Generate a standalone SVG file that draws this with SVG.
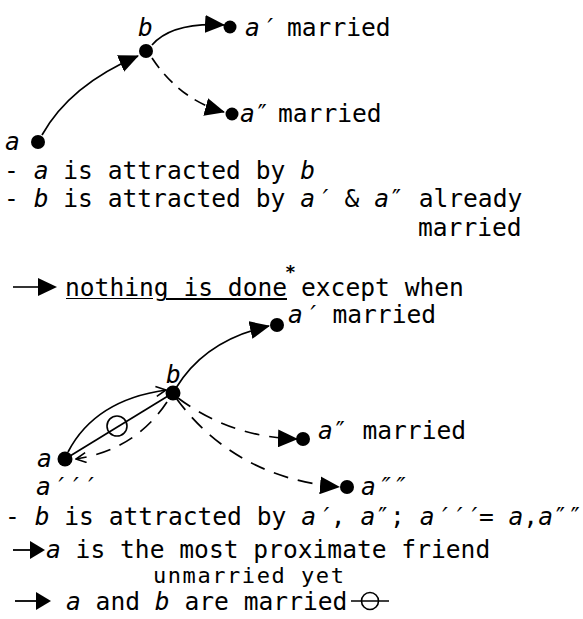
<svg xmlns="http://www.w3.org/2000/svg" width="583" height="619" viewBox="0 0 583 619">
<style>
text{font-family:"DejaVu Sans Mono","Liberation Mono",monospace;font-size:24.6px;fill:#000}
.v{font-style:italic}
.s{font-size:22px;letter-spacing:1.56px}
.c{fill:none;stroke:#000;stroke-width:1.7}
.d{fill:none;stroke:#000;stroke-width:1.7;stroke-dasharray:12 8}
.d2{fill:none;stroke:#000;stroke-width:1.7;stroke-dasharray:15 10}
.n{fill:#000}
</style>
<defs>
<marker id="tri" viewBox="0 0 20 18" refX="19" refY="9" markerWidth="20" markerHeight="18" markerUnits="userSpaceOnUse" orient="auto"><path d="M0,0 L20,9 L0,18 Z" fill="#000"/></marker>
<marker id="open" viewBox="0 0 12 12" refX="11" refY="6" markerWidth="12" markerHeight="12" markerUnits="userSpaceOnUse" orient="auto"><path d="M1,1 L11,6 L1,11" fill="none" stroke="#000" stroke-width="1.6"/></marker>
</defs>

<g id="connectors">
  <path class="c" d="M42,135 Q70,85 138,56" marker-end="url(#tri)"/>
  <path class="c" d="M152,45 Q172,22 224,25" marker-end="url(#tri)"/>
  <path class="d" d="M152,58 Q180,100 224,112" marker-end="url(#tri)"/>
  <path class="c" d="M176,388 Q205,340 269,326" marker-end="url(#tri)"/>
  <path class="d2" d="M178,398 Q230,437 297,439" marker-end="url(#tri)"/>
  <path class="d2" d="M176,398 Q235,478 339,487" marker-end="url(#tri)"/>
  <path class="c" d="M68,452 Q95,400 166,390" marker-end="url(#open)"/>
  <path class="c" d="M70,456 L168,396"/>
  <circle cx="117" cy="426" r="10" fill="none" stroke="#000" stroke-width="1.6"/>
  <path class="d2" d="M167,402 Q135,450 76,459" marker-end="url(#open)"/>
</g>

<g id="node-a-top"><circle class="n" cx="38" cy="142" r="7"/><text class="v" x="5" y="150">a</text></g>
<g id="node-b-top"><circle class="n" cx="146" cy="51" r="7"/><text class="v" x="138" y="36">b</text></g>
<g id="node-a1-top"><circle class="n" cx="230" cy="27" r="6.5"/><text x="245" y="36"><tspan class="v">a′</tspan><tspan x="287">married</tspan></text></g>
<g id="node-a2-top"><circle class="n" cx="232" cy="114" r="6.5"/><text x="240" y="122"><tspan class="v">a</tspan>″<tspan x="278">married</tspan></text></g>

<g id="text-top">
  <text x="4" y="179">- <tspan class="v">a</tspan> is attracted by <tspan class="v">b</tspan></text>
  <text x="4" y="207">- <tspan class="v">b</tspan> is attracted by <tspan class="v">a′</tspan> &amp; <tspan class="v">a</tspan>″ already</text>
  <text x="418" y="236">married</text>
  <line x1="13" y1="287" x2="42" y2="287" stroke="#000" stroke-width="1.6"/>
  <path d="M38,278 L57,287 L38,296 Z" fill="#000"/>
  <text x="65" y="296">nothing is done</text>
  <line x1="66" y1="298.5" x2="153" y2="298.5" stroke="#000" stroke-width="1.2"/>
  <line x1="166" y1="299" x2="287" y2="299" stroke="#000" stroke-width="1.8"/>
  <text x="285" y="278" style="font-size:18px;font-weight:bold">*</text>
  <text x="301" y="296">except when</text>
</g>

<g id="node-a-bottom"><circle class="n" cx="65" cy="459" r="7.5"/><text class="v" x="37" y="467">a</text><text class="v" x="36" y="495">a′′′</text></g>
<g id="node-b-bottom"><circle class="n" cx="173" cy="393" r="7.5"/><text class="v" x="166" y="383">b</text></g>
<g id="node-a1-bottom"><circle class="n" cx="277" cy="325" r="7"/><text x="288" y="323"><tspan class="v">a′</tspan> married</text></g>
<g id="node-a2-bottom"><circle class="n" cx="303" cy="439" r="7"/><text x="318" y="439"><tspan class="v">a</tspan>″ married</text></g>
<g id="node-a4-bottom"><circle class="n" cx="347" cy="487" r="7"/><text class="v" x="361" y="495">a″″</text></g>

<g id="text-bottom">
  <text x="5" y="525">- <tspan class="v">b</tspan> is attracted by <tspan class="v">a′</tspan>, <tspan class="v">a</tspan>″; <tspan class="v">a′′′</tspan>= <tspan class="v">a</tspan>,<tspan class="v">a</tspan>″″</text>
  <line x1="13" y1="550" x2="33" y2="550" stroke="#000" stroke-width="1.8"/>
  <path d="M30,541 L45,550 L30,559 Z" fill="#000"/>
  <text x="46" y="558"><tspan class="v">a</tspan> is the most proximate friend</text>
  <text class="s" x="153" y="583">unmarried yet</text>
  <line x1="15" y1="601" x2="40" y2="601" stroke="#000" stroke-width="1.8"/>
  <path d="M36,592 L51,601 L36,610 Z" fill="#000"/>
  <text x="66" y="610"><tspan class="v">a</tspan> and <tspan class="v">b</tspan> are married</text>
  <line x1="351" y1="601" x2="389" y2="601" stroke="#000" stroke-width="1.6"/>
  <circle cx="370" cy="601" r="8.5" fill="none" stroke="#000" stroke-width="1.6"/>
</g>
</svg>
